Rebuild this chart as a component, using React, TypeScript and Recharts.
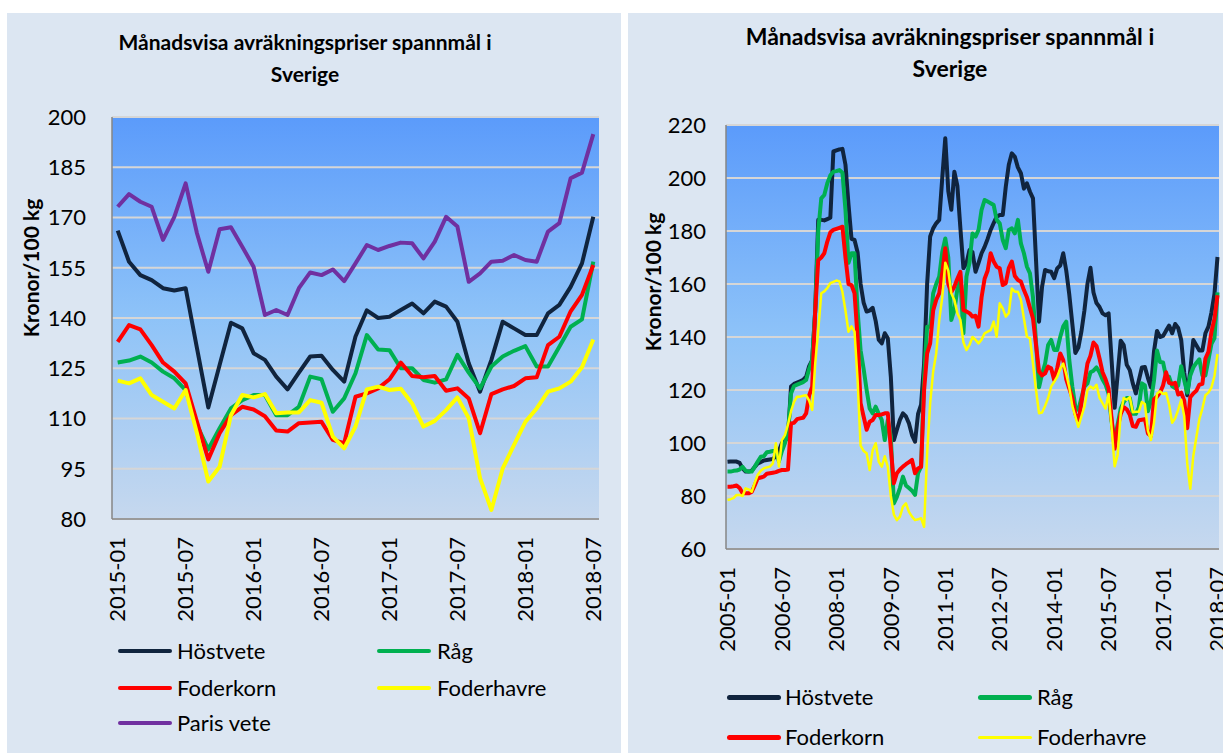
import React from 'react';
import { LineChart, Line, XAxis, YAxis, CartesianGrid } from 'recharts';

// Monthly values, kronor/100 kg
// 2015-01 .. 2018-07 (43 months)
const hostveteRecent = [166.1, 156.8, 152.8, 151.3, 148.9, 148.2, 148.9, 131, 113.3, 126, 138.6, 136.9, 129.5, 127.5, 122.5, 118.7, 123.7, 128.5, 128.7, 124.5, 121, 134.5, 142.3, 140, 140.4, 142.4, 144.3, 141.4, 144.9, 143.4, 138.9, 126.5, 118, 127.5, 138.9, 136.9, 134.9, 134.9, 141.4, 143.9, 149.3, 156.3, 170.2];
const ragRecent = [126.7, 127.3, 128.5, 126.7, 124, 122, 118.5, 108, 100.8, 107.1, 113, 115.5, 117, 117, 111, 111, 113.5, 122.5, 121.7, 112, 116, 123.5, 134.9, 130.6, 130.4, 125, 125, 121.5, 120.7, 121.7, 129, 123.7, 119, 125.5, 128.5, 130.2, 131.6, 125.5, 125.5, 131.4, 137.4, 139.6, 156.8];
const foderkornRecent = [132.9, 137.9, 136.6, 131.9, 126.7, 124, 120.5, 109, 97.8, 105.6, 111, 113.5, 112.7, 110.7, 106.4, 106.1, 108.6, 108.8, 109, 103.6, 102.6, 116.5, 117.5, 119, 121.7, 126.7, 122.7, 122.3, 122.7, 118.3, 119, 116, 105.6, 117.3, 118.7, 119.7, 122, 122.3, 131.9, 134.4, 142, 146.9, 155.8];
const foderhavreRecent = [121.3, 120.5, 122, 117, 115, 113, 118.5, 105.6, 91.2, 95.6, 111, 117, 116.3, 117.3, 111.6, 111.8, 111.8, 115.5, 114.7, 104.6, 101.1, 107.6, 118.7, 119.5, 118.5, 118.9, 114.5, 107.6, 109.3, 112.5, 116.3, 110.1, 92.2, 82.7, 95.1, 102.1, 109, 113, 118, 119, 121, 125.3, 133.6];
const parisVete = [173.2, 177.0, 174.7, 173.2, 163.3, 170.2, 180.2, 165.3, 153.8, 166.5, 167.1, 161.3, 155.3, 140.9, 142.4, 140.9, 148.9, 153.6, 152.8, 154.5, 151.0, 156.3, 161.8, 160.3, 161.5, 162.5, 162.3, 157.8, 162.8, 170.2, 167.3, 150.8, 153.3, 156.8, 157.1, 158.8, 157.3, 156.8, 165.8, 168.3, 181.7, 183.4, 194.9];

// 2005-01 .. 2014-12 (120 months)
const hostveteEarly = [
  92.9, 93, 93, 93, 92.5, 90.4, 89.2, 89.2, 89.5, 91,
  92.3, 92.8, 93.4, 93.6, 93.8, 94, 95, 97, 100, 101,
  102, 121.3, 122.3, 122.8, 123.3, 123.8, 125, 129, 131.3, 150,
  184.2, 184.2, 184, 184.5, 185, 210, 210.4, 210.8, 211, 205,
  190, 177, 176.6, 172, 160, 153, 149.6, 150, 151, 146,
  139, 137.6, 141.4, 139.5, 125, 101.1, 105, 108.7, 111.2, 110,
  107.4, 103, 100.5, 111, 114.5, 130, 160, 177.9, 181, 182.9,
  184.2, 200, 215, 195, 188, 202.4, 197, 181, 166, 167.8,
  172.8, 172, 164.6, 168, 171.6, 174, 177, 180.4, 183, 185.4,
  186, 186, 196.7, 205, 209.3, 208, 204, 201.8, 196, 198,
  194.8, 192.3, 169, 145.8, 159, 165.3, 164.8, 164.6, 162.2, 165.9,
  167, 171.6, 165, 156, 145, 134, 136, 142, 150, 160,
];
const ragEarly = [
  89.2, 89.2, 89.5, 89.6, 90, 91, 89.5, 89.2, 89.2, 91,
  93, 94.8, 95, 96.5, 96.7, 97, 97, 93, 97, 100,
  104, 118.7, 121.5, 122, 122.5, 123, 123.8, 128, 131.3, 150,
  180, 192.3, 193.6, 198, 201, 202.4, 202.6, 203, 202, 188,
  168, 171.6, 171.6, 150, 135, 128, 120, 113, 111.2, 113.7,
  111, 108.7, 101.1, 108.7, 102.4, 77.2, 79.7, 83, 87.3, 84,
  83, 82, 80.4, 88.6, 91.1, 125, 143.9, 143.9, 156.5, 160,
  162.8, 172, 177.2, 170, 146.4, 150.2, 158, 161.5, 141.4, 162.8,
  168, 179.1, 177.9, 180.4, 188, 191.7, 191.1, 190.5, 189.8, 184.2,
  182.9, 176.6, 173.5, 180.4, 181, 179.1, 184.2, 175.3, 171.6, 166.5,
  164, 155, 138, 121, 126, 130, 137, 138.9, 135.1, 135.1,
  140, 144, 145.8, 131.3, 121.3, 113.7, 112.5, 117, 121.3, 122.5,
];
const foderkornEarly = [
  83.5, 83.5, 83.7, 84, 83, 81, 81, 81, 81.5, 84,
  86.7, 87, 87.3, 88.4, 88.6, 88.8, 89, 89.5, 89.8, 89.8,
  90, 107.4, 107.6, 109, 109.3, 109.5, 111.2, 118, 121.3, 150,
  169, 170, 171.6, 176, 179.5, 180.4, 180.8, 181.2, 181.6, 170,
  160, 159.6, 156.5, 140, 115, 110, 105, 108, 108.7, 110.6,
  110.6, 110.8, 111.2, 111.2, 98, 84.8, 88.6, 90, 91.1, 92,
  92.8, 93.6, 88.6, 90.4, 91, 120, 133.8, 137.6, 150, 154,
  156.5, 164, 173.5, 160, 157, 159, 162, 164.6, 150.2, 149.6,
  149, 147.7, 148, 143.9, 155, 162, 165, 171.6, 168.5, 166.5,
  165.9, 159.6, 160.3, 166, 168.5, 163, 161.5, 160.9, 157.7, 155,
  151, 147, 137, 127, 125.5, 126.3, 128.8, 128.2, 123.8, 128.2,
  133.8, 131.3, 124, 120.5, 117, 111, 108, 115, 122.5, 130,
];
const foderhavreEarly = [
  78.5, 78.8, 79.2, 80.4, 80.4, 80, 82.9, 82.5, 81.6, 85,
  88, 89.5, 90.4, 90.8, 91.1, 92.3, 99.9, 91.1, 101.1, 103,
  107, 112, 115.5, 117.5, 117.5, 117.8, 118, 116, 112.5, 130,
  142.6, 156.5, 157.2, 158.5, 160.3, 160.8, 161.3, 161, 157, 150,
  142, 144, 142, 124, 99, 97, 96.1, 89.8, 97.3, 99.9,
  93, 91.1, 95, 91, 80, 73, 70.9, 72.2, 76, 77.2,
  74, 72.2, 70.9, 71.2, 71.6, 68.4, 96.1, 115, 127, 133.8,
  146.4, 155, 168, 165, 156.5, 154, 149, 146.4, 138, 135.1,
  137, 140, 138.9, 137.6, 139, 141.4, 142, 142.6, 145.8, 140.1,
  152.7, 150.8, 147.7, 149, 158.3, 157.1, 157.1, 154, 147, 140.1,
  139.5, 130, 120, 111.2, 111.5, 114, 117, 121.3, 123.1, 125,
  128, 130, 126, 121, 114, 110, 106.1, 110, 113.7, 120,
];

const leftTicks = [80, 95, 110, 125, 140, 155, 170, 185, 200];
const rightTicks = [60, 80, 100, 120, 140, 160, 180, 200, 220];

const monthLabels = (startYear: number, count: number) => {
  const out: string[] = [];
  for (let i = 0; i < count; i++) {
    const y = startYear + Math.floor(i / 12);
    const m = (i % 12) + 1;
    out.push(`${y}-${m < 10 ? '0' + m : m}`);
  }
  return out;
};

const recentMonths = monthLabels(2015, 43);
const allMonths = monthLabels(2005, 163);

const leftData = recentMonths.map((month, i) => ({
  month,
  hostvete: hostveteRecent[i],
  rag: ragRecent[i],
  foderkorn: foderkornRecent[i],
  foderhavre: foderhavreRecent[i],
  paris: parisVete[i],
}));

const hostveteAll = [...hostveteEarly, ...hostveteRecent];
const ragAll = [...ragEarly, ...ragRecent];
const foderkornAll = [...foderkornEarly, ...foderkornRecent];
const foderhavreAll = [...foderhavreEarly, ...foderhavreRecent];

const rightData = allMonths.map((month, i) => ({
  month,
  hostvete: hostveteAll[i],
  rag: ragAll[i],
  foderkorn: foderkornAll[i],
  foderhavre: foderhavreAll[i],
}));

const series = [
  { key: 'hostvete', name: 'Höstvete', color: '#10243e' },
  { key: 'rag', name: 'Råg', color: '#00b050' },
  { key: 'foderkorn', name: 'Foderkorn', color: '#ff0000' },
  { key: 'foderhavre', name: 'Foderhavre', color: '#ffff00' },
  { key: 'paris', name: 'Paris vete', color: '#7030a0' },
];

const FONT = 'Lato, "Open Sans", sans-serif';
const PANEL_BG = '#dce6f2';

const RotatedTick = ({ x, y, payload }: any) => (
  <text
    x={x}
    y={y}
    transform={`rotate(-90, ${x}, ${y})`}
    textAnchor="end"
    dy="0.35em"
    fontSize={22}
    fontFamily={FONT}
    fill="#000"
  >
    {payload.value}
  </text>
);

const PlotGradient = ({ id }: { id: string }) => (
  <defs>
    <linearGradient id={id} x1="0" y1="0" x2="0" y2="1">
      <stop offset="0%" stopColor="#5b9bfb" />
      <stop offset="50%" stopColor="#8ec3f8" />
      <stop offset="100%" stopColor="#c6d8ee" />
    </linearGradient>
  </defs>
);

const Title = ({ cx, top, size }: { cx: number; top: number; size: number }) => (
  <div
    style={{
      position: 'absolute',
      left: cx - 280,
      top,
      width: 560,
      textAlign: 'center',
      fontWeight: 700,
      fontSize: size,
      lineHeight: '32px',
      color: '#000',
    }}
  >
    Månadsvisa avräkningspriser spannmål i
    <br />
    Sverige
  </div>
);

const YLabel = ({ cx, cy }: { cx: number; cy: number }) => (
  <div
    style={{
      position: 'absolute',
      left: cx,
      top: cy,
      transform: 'translate(-50%, -50%) rotate(-90deg)',
      whiteSpace: 'nowrap',
      fontWeight: 700,
      fontSize: 21,
      color: '#000',
    }}
  >
    Kronor/100 kg
  </div>
);

type LegendItem = { name: string; color: string; width: number };

const LegendBlock = ({
  items,
  rows,
  cols,
}: {
  items: LegendItem[];
  rows: number[];
  cols: { line: number; text: number }[];
}) => (
  <>
    {items.map((it, i) => {
      const row = rows[Math.floor(i / 2)];
      const col = cols[i % 2];
      return (
        <div key={it.name}>
          <div
            style={{
              position: 'absolute',
              left: col.line,
              top: row - it.width / 2,
              width: 54,
              height: it.width,
              borderRadius: it.width / 2,
              background: it.color,
            }}
          />
          <div
            style={{
              position: 'absolute',
              left: col.text,
              top: row - 15,
              height: 30,
              lineHeight: '30px',
              fontSize: 22,
              color: '#000',
              whiteSpace: 'nowrap',
            }}
          >
            {it.name}
          </div>
        </div>
      );
    })}
  </>
);

const axisStroke = { stroke: '#868686', strokeWidth: 1.5 };

export default function App() {
  const leftSeries = series;
  const rightSeries = series.slice(0, 4);

  return (
    <div
      style={{
        position: 'absolute',
        left: 0,
        top: 0,
        width: 1223,
        height: 753,
        background: '#fff',
        overflow: 'hidden',
        fontFamily: FONT,
      }}
    >
      {/* Left panel: 2015-2018 */}
      <div style={{ position: 'absolute', left: 7, top: 13, width: 614, height: 740, background: PANEL_BG }}>
        <Title cx={298} top={13} size={21} />
        <YLabel cx={23} cy={255} />
        <LineChart
          width={614}
          height={740}
          data={leftData}
          margin={{ top: 104, right: 22, bottom: 134, left: 0 }}
          style={{ position: 'absolute', left: 0, top: 0 }}
        >
          <PlotGradient id="plotBgLeft" />
          <CartesianGrid
            horizontal
            vertical={false}
            stroke="#d6d6d6"
            strokeWidth={2}
            fill="url(#plotBgLeft)"
            fillOpacity={1}
          />
          <XAxis
            dataKey="month"
            interval={5}
            height={100}
            padding={{ left: 5.7, right: 5.7 }}
            tickLine={false}
            tickMargin={12}
            axisLine={axisStroke}
            tick={<RotatedTick />}
          />
          <YAxis
            domain={[80, 200]}
            ticks={leftTicks}
            width={105}
            tickLine={false}
            tickMargin={20}
            axisLine={axisStroke}
            tick={{ fontSize: 22, fill: '#000', fontFamily: FONT }}
          />
          {leftSeries.map((s) => (
            <Line
              key={s.key}
              type="linear"
              dataKey={s.key}
              name={s.name}
              stroke={s.color}
              strokeWidth={4}
              strokeLinejoin="round"
              dot={false}
              isAnimationActive={false}
            />
          ))}
        </LineChart>
        <LegendBlock
          items={leftSeries.map((s) => ({ name: s.name, color: s.color, width: 4 }))}
          rows={[638, 675, 710]}
          cols={[
            { line: 111, text: 170 },
            { line: 370, text: 430 },
          ]}
        />
      </div>

      {/* Right panel: 2005-2018 */}
      <div style={{ position: 'absolute', left: 628, top: 13, width: 595, height: 740, background: PANEL_BG }}>
        <Title cx={322} top={7} size={23} />
        <YLabel cx={24} cy={269} />
        <LineChart
          width={595}
          height={740}
          data={rightData}
          margin={{ top: 112, right: 4, bottom: 94, left: 0 }}
          style={{ position: 'absolute', left: 0, top: 0 }}
        >
          <PlotGradient id="plotBgRight" />
          <CartesianGrid
            horizontal
            vertical={false}
            stroke="#d6d6d6"
            strokeWidth={2}
            fill="url(#plotBgRight)"
            fillOpacity={1}
          />
          <XAxis
            dataKey="month"
            interval={17}
            height={110}
            padding={{ left: 1.5, right: 1.5 }}
            tickLine={false}
            tickMargin={12}
            axisLine={axisStroke}
            tick={<RotatedTick />}
          />
          <YAxis
            domain={[60, 220]}
            ticks={rightTicks}
            width={98}
            tickLine={false}
            tickMargin={14}
            axisLine={axisStroke}
            tick={{ fontSize: 22, fill: '#000', fontFamily: FONT }}
          />
          {rightSeries.map((s) => (
            <Line
              key={s.key}
              type="linear"
              dataKey={s.key}
              name={s.name}
              stroke={s.color}
              strokeWidth={s.key === 'foderhavre' ? 2.5 : 4}
              strokeLinejoin="round"
              dot={false}
              isAnimationActive={false}
            />
          ))}
        </LineChart>
        <LegendBlock
          items={rightSeries.map((s) => ({
            name: s.name,
            color: s.color,
            width: s.key === 'foderhavre' ? 3 : 5,
          }))}
          rows={[684, 724]}
          cols={[
            { line: 99, text: 157 },
            { line: 350, text: 409 },
          ]}
        />
      </div>
    </div>
  );
}
